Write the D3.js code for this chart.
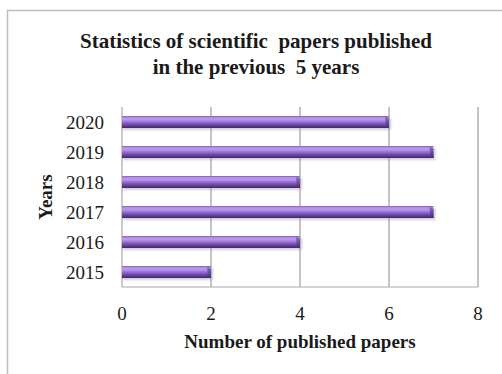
<!DOCTYPE html>
<html>
<head>
<meta charset="utf-8">
<script src="https://cdn.jsdelivr.net/npm/d3@7"></script>
<style>
  html, body { margin: 0; padding: 0; background: #fff; }
  svg { display: block; }
  text { font-family: "Liberation Serif", "Times New Roman", serif; fill: #1a1a1a; }
</style>
</head>
<body>
<svg id="chart" width="502" height="374"></svg>
<script>
// Papers published per year
const years = ["2015", "2016", "2017", "2018", "2019", "2020"];
const papers = [2, 4, 7, 4, 7, 6];
const xTicks = [0, 2, 4, 6, 8];

const titleLines = ["Statistics of scientific  papers published", "in the previous  5 years"];
const xTitle = "Number of published papers";
const yTitle = "Years";

const svg = d3.select("#chart");
const W = 502, H = 374;
const plot = { left: 122, right: 478, top: 107, bottom: 287 };

// Outer chart frame (runs past the right and bottom edges)
svg.append("rect")
  .attr("x", 7.5).attr("y", 10.5)
  .attr("width", W + 20).attr("height", H + 20)
  .attr("fill", "#fff").attr("stroke", "#bdbdbd").attr("stroke-width", 1.5);

const x = d3.scaleLinear().domain([0, 8]).range([plot.left, plot.right]);
const y = d3.scaleBand().domain(years.slice().reverse())
  .range([plot.top, plot.bottom]).paddingInner(0.6).paddingOuter(0.3);

// Bar shading: light top edge, deep purple body, dark underside
const defs = svg.append("defs");
const grad = defs.append("linearGradient").attr("id", "barGrad")
  .attr("x1", 0).attr("y1", 0).attr("x2", 0).attr("y2", 1);
[[0, "#7a56ad"], [0.1, "#b08ae4"], [0.3, "#bb98ee"], [0.5, "#9670d2"],
 [0.72, "#6e4aa8"], [1, "#3f2862"]]
  .forEach(([o, c]) => grad.append("stop").attr("offset", o).attr("stop-color", c));
const endGrad = defs.append("linearGradient").attr("id", "endGrad")
  .attr("x1", 0).attr("y1", 0).attr("x2", 0).attr("y2", 1);
[[0, "#9471c8"], [1, "#452c6e"]]
  .forEach(([o, c]) => endGrad.append("stop").attr("offset", o).attr("stop-color", c));
const blur = defs.append("filter").attr("id", "soft")
  .attr("x", "-10%").attr("y", "-50%").attr("width", "120%").attr("height", "200%");
blur.append("feGaussianBlur").attr("stdDeviation", 1.2);

// Vertical gridlines
const g = svg.append("g");
g.selectAll("line.grid").data(xTicks.slice(1)).join("line")
  .attr("class", "grid")
  .attr("x1", d => x(d)).attr("x2", d => x(d))
  .attr("y1", plot.top).attr("y2", plot.bottom)
  .attr("stroke", "#9e9e9e").attr("stroke-width", 1.2);

// Axis lines
g.append("line").attr("x1", plot.left).attr("x2", plot.left)
  .attr("y1", plot.top).attr("y2", plot.bottom)
  .attr("stroke", "#a8a8a8").attr("stroke-width", 1.2);
g.append("line").attr("x1", plot.left).attr("x2", plot.right)
  .attr("y1", plot.bottom).attr("y2", plot.bottom)
  .attr("stroke", "#a8a8a8").attr("stroke-width", 1.2);

const data = years.map((yr, i) => ({ yr, v: papers[i] }));
const bh = y.bandwidth();

// Soft drop shadow under each bar
g.selectAll("rect.shadow").data(data).join("rect")
  .attr("class", "shadow")
  .attr("x", x(0) + 1).attr("y", d => y(d.yr) + 2)
  .attr("width", d => x(d.v) - x(0) + 1).attr("height", bh)
  .attr("fill", "#9a93a8").attr("opacity", 0.45).attr("filter", "url(#soft)");

// Bars
g.selectAll("rect.bar").data(data).join("rect")
  .attr("class", "bar")
  .attr("x", x(0)).attr("y", d => y(d.yr))
  .attr("width", d => x(d.v) - x(0)).attr("height", bh)
  .attr("fill", "url(#barGrad)");

// Bevelled end cap
g.selectAll("path.cap").data(data).join("path")
  .attr("class", "cap")
  .attr("d", d => {
    const xe = x(d.v), y0 = y(d.yr);
    return `M${xe - 4},${y0} L${xe},${y0 + 3} L${xe},${y0 + bh} L${xe - 3},${y0 + bh} Z`;
  })
  .attr("fill", "url(#endGrad)");

// Axis tick labels
svg.append("g").selectAll("text").data(years).join("text")
  .attr("x", 104).attr("y", d => y(d) + bh / 2)
  .attr("dy", "0.35em").attr("text-anchor", "end")
  .attr("font-size", 19).text(d => d);

svg.append("g").selectAll("text").data(xTicks).join("text")
  .attr("x", d => x(d)).attr("y", 313)
  .attr("dy", "0.35em").attr("text-anchor", "middle")
  .attr("font-size", 19).text(d => d);

// Titles
svg.append("g").selectAll("text").data(titleLines).join("text")
  .attr("x", 256).attr("y", (d, i) => 48 + i * 26)
  .attr("text-anchor", "middle").attr("font-weight", "bold")
  .attr("font-size", 21).style("white-space", "pre").text(d => d);

svg.append("text")
  .attr("x", 300).attr("y", 348)
  .attr("text-anchor", "middle").attr("font-weight", "bold")
  .attr("font-size", 19).text(xTitle);

svg.append("text")
  .attr("transform", "translate(52,197) rotate(-90)")
  .attr("text-anchor", "middle").attr("font-weight", "bold")
  .attr("font-size", 19).text(yTitle);
</script>
</body>
</html>
